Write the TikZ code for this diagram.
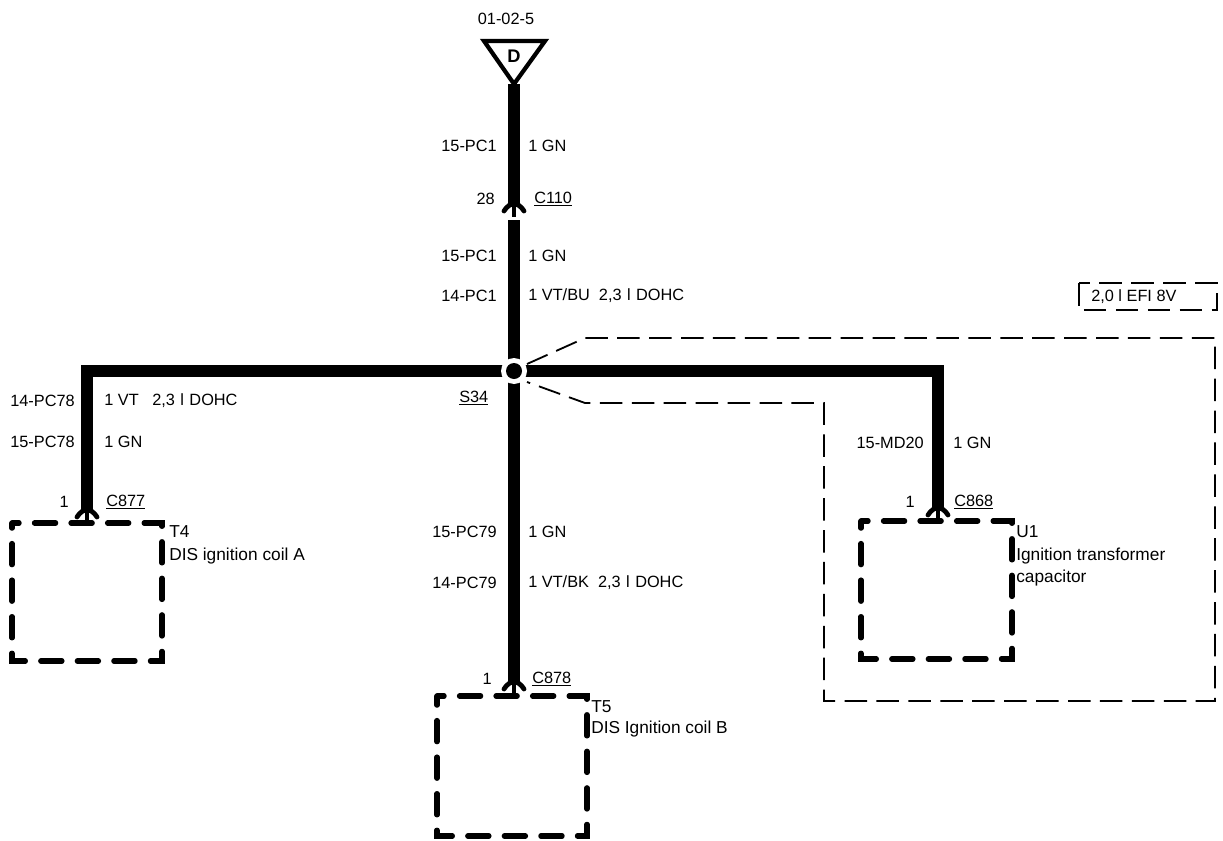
\documentclass[tikz,border=0pt]{standalone}
\usepackage{fontspec}
\setmainfont{Liberation Sans}
\usetikzlibrary{positioning}
\tikzset{
  wire/.style={line width=8.5pt},
  unit/.style={draw,line width=3.8pt,dash pattern=on 15pt off 11pt,dash phase=10pt,line cap=round,line join=miter},
  zone/.style={draw,line width=1.3pt,dash pattern=on 16pt off 6.7pt},
  lbl/.style={font=\fontsize{11.6}{13}\selectfont,inner sep=0pt},
  unitname/.style={font=\fontsize{12.3}{14}\selectfont,inner sep=0pt,anchor=west},
  wl/.style={lbl,anchor=east},
  wr/.style={lbl,anchor=west},
  plug/.pic={
    \draw[line width=3.4pt,line cap=round] (-10,5) .. controls (-6,-1) and (-3,-2) .. (0,-2) .. controls (3,-2) and (6,-1) .. (10,5);
    \draw[line width=2.8pt] (0,-2) -- (0,11);
  }
}
\begin{document}
\begin{tikzpicture}[x=0.025cm,y=-0.025cm]
  \useasboundingbox (0,0) rectangle (1223,841);

  % points along the harness
  \coordinate (tip) at (514,84);
  \coordinate (c110) at (514,206);
  \coordinate (c110low) at (514,220);
  \coordinate (splice) at (514,371);
  \coordinate (left) at (87,371);
  \coordinate (right) at (938,371);
  \coordinate (c877) at (87,512);
  \coordinate (c868) at (938,510);
  \coordinate (c878) at (514,684);

  % triangle with letter
  \node[lbl,font=\fontsize{13}{15}\selectfont\bfseries] (sym) at (514,56) {D};
  \coordinate (tl) at (484,41);
  \coordinate (tr) at (545,41);
  \draw[line width=3pt,line join=miter] (tl) -- (tr) -- (tip) -- cycle;
  \node[lbl] (ref) at (506,19) {01-02-5};

  % wires
  \draw[wire] (tip) -- (c110);
  \draw[wire] (c110low) -- (c878);
  \draw[wire,line join=miter] (c877) -- (left) -- (right) -- (c868);

  % connectors
  \pic at (c110) {plug};
  \pic at (c877) {plug};
  \pic at (c868) {plug};
  \pic at (c878) {plug};

  % splice
  \fill[white] (splice) circle (13);
  \node[fill,circle,inner sep=0pt,minimum size=0.4cm] (s34dot) at (splice) {};

  % units
  \draw[unit] (12,523) -- (162,523) -- (162,661) -- (12,661) -- cycle;
  \draw[unit] (437,696) -- (587,696) -- (587,836) -- (437,836) -- cycle;
  \draw[unit] (861,521) -- (1012,521) -- (1012,659) -- (861,659) -- cycle;

  % option zone
  \coordinate (za) at (527,364);
  \coordinate (zb) at (585,338);
  \coordinate (zc) at (1215,338);
  \coordinate (zd) at (1215,701);
  \coordinate (ze) at (824,701);
  \coordinate (zf) at (824,403);
  \coordinate (zg) at (585,403);
  \coordinate (zh) at (527,382);
  \draw[zone] (za) -- (zb) -- (zc) -- (zd) -- (ze) -- (zf) -- (zg) -- (zh);
  \draw[zone,line width=1pt] (1079,283) rectangle (1217,310);
  \node[lbl,anchor=west] (opt) at (1091,297) {2,0 l EFI 8V};

  % wire labels, top
  \node[wl] (w1) at (497,146) {15-PC1};
  \node[wr] (w1r) at (528,146) {1 GN};
  \node[wl] (p28) at (495,199) {28};
  \node[wr] (cn1) at (534,199) {\underline{C110}};
  \node[wl] (w2) at (497,256) {15-PC1};
  \node[wr] (w2r) at (528,256) {1 GN};
  \node[wl] (w3) at (497,296) {14-PC1};
  \node[wr] (w3r) at (528,296) {1 VT/BU\ \ 2,3\,\,l\,\,DOHC};

  % wire labels, left
  \node[wl] (w4) at (75,401) {14-PC78};
  \node[wr] (w4r) at (104,401) {1 VT\ \ \ 2,3\,\,l\,\,DOHC};
  \node[wl] (w5) at (75,442) {15-PC78};
  \node[wr] (w5r) at (104,442) {1 GN};
  \node[wl] (p1a) at (69,502) {1};
  \node[wr] (cn2) at (106,502) {\underline{C877}};
  \node[unitname] (t4) at (169,532) {T4};
  \node[unitname] (t4n) at (169,556) {DIS ignition coil A};

  % wire labels, centre
  \node[lbl,anchor=west] (s34) at (459,398) {\underline{S34}};
  \node[wl] (w6) at (497,532) {15-PC79};
  \node[wr] (w6r) at (528,532) {1 GN};
  \node[wl] (w7) at (497,583) {14-PC79};
  \node[wr] (w7r) at (528,583) {1 VT/BK\ \ 2,3\,\,l\,\,DOHC};
  \node[wl] (p1b) at (492,679) {1};
  \node[wr] (cn3) at (532,679) {\underline{C878}};
  \node[unitname] (t5) at (591,707) {T5};
  \node[unitname] (t5n) at (591,729) {DIS Ignition coil B};

  % wire labels, right
  \node[wl] (w8) at (924,443) {15-MD20};
  \node[wr] (w8r) at (953,443) {1 GN};
  \node[wl] (p1c) at (915,502) {1};
  \node[wr] (cn4) at (954,502) {\underline{C868}};
  \node[unitname] (u1) at (1016,532) {U1};
  \node[unitname] (u1a) at (1016,556) {Ignition transformer};
  \node[unitname] (u1b) at (1016,578) {capacitor};
\end{tikzpicture}
\end{document}
